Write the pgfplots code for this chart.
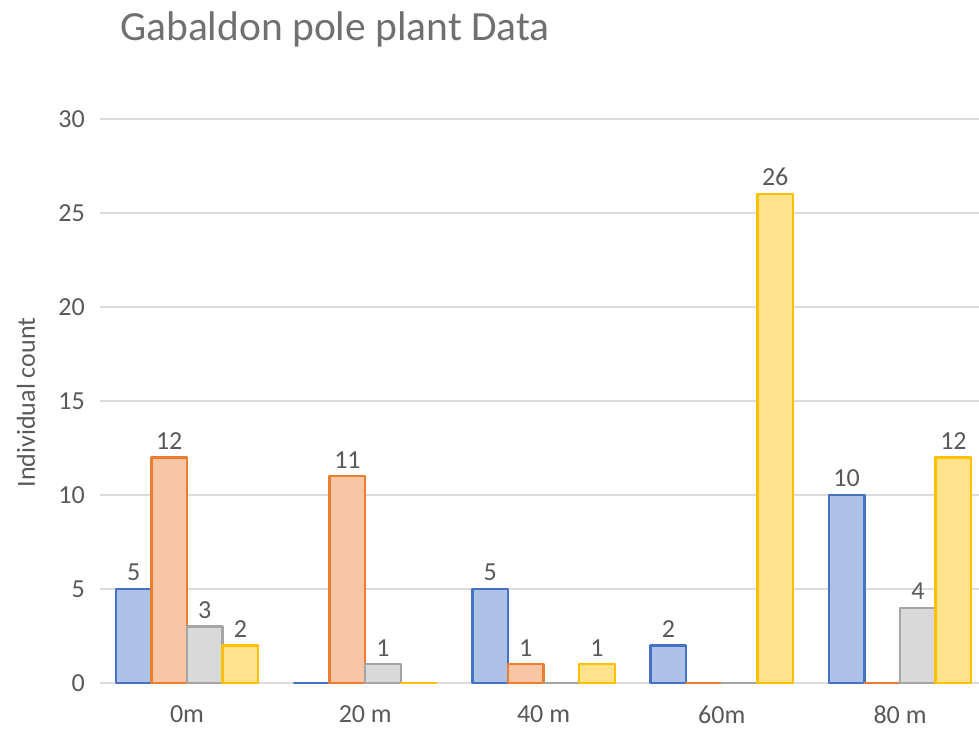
\documentclass[border=0pt]{standalone}
\usepackage{fontspec}
\setmainfont{Carlito}
\usepackage{pgfplots}
\pgfplotsset{compat=1.18}
\definecolor{txt}{HTML}{595959}
\definecolor{ttl}{HTML}{707070}
\definecolor{gridc}{HTML}{DCDCDC}
\definecolor{bB}{HTML}{4472C4}
\definecolor{fB}{HTML}{AEC2E7}
\definecolor{bO}{HTML}{ED7D31}
\definecolor{fO}{HTML}{F8C6A4}
\definecolor{bG}{HTML}{A5A5A5}
\definecolor{fG}{HTML}{D9D9D9}
\definecolor{bY}{HTML}{FFC000}
\definecolor{fY}{HTML}{FFE28C}
\begin{document}
\begin{tikzpicture}[x=1pt,y=1pt]
\path[use as bounding box] (0,0) rectangle (979,729);
\node[anchor=base west, inner sep=0pt, text=ttl, font=\fontsize{41.5}{49}\selectfont] at (120,688) {Gabaldon pole plant Data};
\node[rotate=90, inner sep=0pt, text=txt, font=\fontsize{26}{31}\selectfont] at (26,326.5) {Individual count};
\begin{axis}[
  at={(100pt,46pt)}, anchor=south west, scale only axis,
  width=879pt, height=564pt,
  xmin=-0.488, xmax=4.443, ymin=0, ymax=30,
  clip=false,
  ytick={0,5,10,15,20,25,30},
  xtick={0,1,2,3,4}, xticklabels={0m,20 m,40 m,60m,80 m},
  axis line style={draw=none}, tick style={draw=none},
  ymajorgrids, grid style={color=gridc, line width=1.5pt},
  tick label style={font=\fontsize{26}{31}\selectfont, text=txt},
  /pgf/number format/assume math mode=true,
  yticklabel style={inner sep=0pt, anchor=east, xshift=-15pt},
  xticklabel style={inner sep=0pt, anchor=north, yshift=-18pt},
  ybar=0pt, bar width=35.6pt,
  point meta=explicit symbolic,
  nodes near coords,
  nodes near coords style={inner sep=0pt, anchor=south, yshift=7pt, font=\fontsize{26}{31}\selectfont, text=txt},
  every axis plot/.append style={line width=2.4pt, line join=round},
]
\addplot[draw=bB, fill=fB] coordinates {(0,5) [5] (1,0) [] (2,5) [5] (3,2) [2] (4,10) [10]};
\addplot[draw=bO, fill=fO] coordinates {(0,12) [12] (1,11) [11] (2,1) [1] (3,0) [] (4,0) []};
\addplot[draw=bG, fill=fG] coordinates {(0,3) [3] (1,1) [1] (2,0) [] (3,0) [] (4,4) [4]};
\addplot[draw=bY, fill=fY] coordinates {(0,2) [2] (1,0) [] (2,1) [1] (3,26) [26] (4,12) [12]};
\end{axis}
\end{tikzpicture}
\end{document}
